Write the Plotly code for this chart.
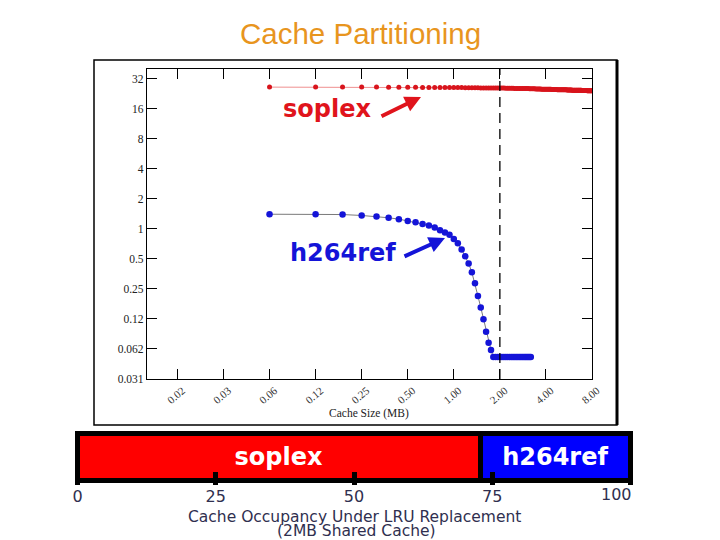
import math
import plotly.graph_objects as go

# ---------------- data ----------------
# cache sizes sampled every 64KB (1/16 MB), from 1/16 MB up to 8 MB
cache_sizes_mb = [k / 16 for k in range(1, 129)]

soplex_mpki = [
    26.3, 26.3, 26.3, 26.3, 26.3, 26.2, 26.2, 26.2,
    26.2, 26.1, 26.1, 26.1, 26.1, 26.0, 26.0, 26.0,
    26.0, 26.0, 25.9, 25.9, 25.9, 25.9, 25.9, 25.8,
    25.8, 25.8, 25.8, 25.8, 25.8, 25.7, 25.7, 25.7,
    25.7, 25.7, 25.6, 25.6, 25.6, 25.6, 25.6, 25.5,
    25.5, 25.5, 25.5, 25.5, 25.4, 25.4, 25.4, 25.4,
    25.4, 25.3, 25.3, 25.3, 25.3, 25.3, 25.2, 25.2,
    25.2, 25.2, 25.2, 25.1, 25.1, 25.1, 25.1, 25.1,
    25.0, 25.0, 25.0, 25.0, 25.0, 24.9, 24.9, 24.9,
    24.9, 24.9, 24.9, 24.8, 24.8, 24.8, 24.8, 24.8,
    24.8, 24.7, 24.7, 24.7, 24.7, 24.7, 24.7, 24.6,
    24.6, 24.6, 24.6, 24.6, 24.6, 24.6, 24.5, 24.5,
    24.5, 24.5, 24.5, 24.5, 24.5, 24.4, 24.4, 24.4,
    24.4, 24.4, 24.4, 24.4, 24.4, 24.3, 24.3, 24.3,
    24.3, 24.3, 24.3, 24.3, 24.3, 24.3, 24.2, 24.2,
    24.2, 24.2, 24.2, 24.2, 24.2, 24.2, 24.2, 24.2,
]

h264ref_mpki = [
    1.40, 1.40, 1.39, 1.36, 1.33, 1.29, 1.25, 1.20,
    1.16, 1.12, 1.08, 1.03, 0.97, 0.92, 0.87, 0.79,
    0.715, 0.62, 0.53, 0.45, 0.366, 0.284, 0.212, 0.163,
    0.124, 0.093, 0.072, 0.061, 0.052, 0.052, 0.052, 0.052,
    0.052, 0.052, 0.052, 0.052, 0.052, 0.052, 0.052, 0.052,
    0.052, 0.052, 0.052, 0.052, 0.052, 0.052, 0.052, 0.052,
    0.052, 0.052, 0.052,
]

x_tickvals = [2 ** e for e in range(-6, 4)]
x_ticktext = ["0.02", "0.03", "0.06", "0.12", "0.25", "0.50", "1.00", "2.00", "4.00", "8.00"]
y_tickvals = [2 ** e for e in range(5, -6, -1)]
y_ticktext = ["32", "16", "8", "4", "2", "1", "0.5", "0.25", "0.12", "0.062", "0.031"]

apps = ["soplex", "h264ref"]
occupancy_pct = [72.8, 27.2]
bar_colors = ["#FF0000", "#0000FF"]
occ_tickvals = [0, 25, 50, 75, 100]
occ_ticktext = ["0", "25", "50", "75", ""]

# ---------------- helpers ----------------
W, H = 720, 540
def px(x):
    return x / W
def py(y):
    return 1 - y / H

L2 = math.log10(2)

fig = go.Figure()

fig.add_trace(go.Scatter(
    x=cache_sizes_mb, y=soplex_mpki, mode="lines+markers",
    line=dict(color="#F09090", width=1),
    marker=dict(color="#D8141C", size=5),
    xaxis="x", yaxis="y", hoverinfo="skip", showlegend=False))

fig.add_trace(go.Scatter(
    x=cache_sizes_mb[:len(h264ref_mpki)], y=h264ref_mpki, mode="lines+markers",
    line=dict(color="#7A7A7A", width=1),
    marker=dict(color="#1414D8", size=6.5),
    xaxis="x", yaxis="y", hoverinfo="skip", showlegend=False))

for name, val, col in zip(apps, occupancy_pct, bar_colors):
    fig.add_trace(go.Bar(
        y=[0], x=[val], orientation="h", width=1,
        marker=dict(color=col, line=dict(color="black", width=5)),
        text=["<b>%s</b>" % name], textposition="inside", insidetextanchor="middle",
        textangle=0, constraintext="none",
        textfont=dict(color="white", size=24, family="DejaVu Sans"),
        xaxis="x2", yaxis="y2", hoverinfo="skip", showlegend=False))

serif = dict(family="Liberation Serif", size=11.5, color="#222222")

fig.update_layout(
    width=W, height=H, margin=dict(l=0, r=0, t=0, b=0, pad=0), autosize=False,
    paper_bgcolor="white", plot_bgcolor="white",
    barmode="stack", showlegend=False,
    xaxis=dict(
        domain=[px(147), px(592)], anchor="y", type="log", automargin=False,
        range=[-6.66 * L2, 3 * L2],
        tickvals=x_tickvals, ticktext=x_ticktext, tickangle=-40, ticklabelshift=5,
        ticks="inside", ticklen=10, tickwidth=1, tickcolor="black",
        showline=True, linecolor="black", linewidth=1.2, mirror="ticks",
        showgrid=False, zeroline=False,
        tickfont=dict(family="Liberation Serif", size=11, color="#333333"),
    ),
    yaxis=dict(
        domain=[py(379), py(69)], anchor="x", type="log", automargin=False,
        range=[-5 * L2, 5.32 * L2],
        tickvals=y_tickvals, ticktext=y_ticktext,
        ticks="inside", ticklen=10, tickwidth=1, tickcolor="black",
        showline=True, linecolor="black", linewidth=1.2, mirror="ticks",
        showgrid=False, zeroline=False, tickfont=serif,
    ),
    xaxis2=dict(
        domain=[px(71.97), px(636.03)], anchor="y2", range=[-1, 101], automargin=False,
        tickvals=occ_tickvals, ticktext=occ_ticktext,
        ticks="inside", ticklen=13, tickwidth=5, tickcolor="black",
        showline=False, showgrid=False, zeroline=False,
        tickfont=dict(family="DejaVu Sans", size=16, color="#2F2F4F"),
    ),
    yaxis2=dict(
        domain=[py(485.2), py(428.8)], anchor="x2", range=[-0.6, 0.6], automargin=False,
        visible=False, fixedrange=True,
    ),
)

# dashed 2MB line
fig.add_shape(type="line", xref="x", yref="y domain", x0=2, x1=2, y0=0, y1=1,
              line=dict(color="black", width=1.3, dash="10px,6px"))

# outer picture frame of the top chart
fig.add_shape(type="rect", xref="paper", yref="paper",
              x0=px(94), x1=px(617), y0=py(425), y1=py(60),
              line=dict(color="black", width=1.5))
fig.add_shape(type="line", xref="paper", yref="paper",
              x0=px(617), x1=px(617), y0=py(425), y1=py(60),
              line=dict(color="black", width=3))

annots = [
    dict(text="Cache Partitioning", x=px(360), y=py(33), font=dict(family="Liberation Sans", size=29.5, color="#E8951E")),
    dict(text="<b>soplex</b>", x=px(327), y=py(109), font=dict(family="DejaVu Sans", size=24, color="#E0141C")),
    dict(text="<b>h264ref</b>", x=px(343), y=py(253), font=dict(family="DejaVu Sans", size=24, color="#1414D8")),
    dict(text="Cache Size (MB)", x=px(369), y=py(413), font=dict(family="Liberation Serif", size=11.5, color="#222222")),
    dict(text="Cache Occupancy Under LRU Replacement", x=px(354), y=py(517), font=dict(family="DejaVu Sans", size=15.5, color="#2F2F4F")),
    dict(text="(2MB Shared Cache)", x=px(356), y=py(530.5), font=dict(family="DejaVu Sans", size=15.5, color="#2F2F4F")),
]
for a in annots:
    fig.add_annotation(xref="paper", yref="paper", showarrow=False,
                       xanchor="center", yanchor="middle", **a)

# "100" label, right-aligned to its tick
fig.add_annotation(text="100", xref="x2", yref="paper", x=100, y=py(494), xanchor="right",
                   yanchor="middle", showarrow=False, xshift=3,
                   font=dict(family="DejaVu Sans", size=16, color="#2F2F4F"))

# arrows
fig.add_annotation(xref="paper", yref="paper", x=px(421), y=py(97), ax=-41, ay=20, text="",
                   showarrow=True, arrowhead=2, arrowsize=0.8, arrowwidth=4, arrowcolor="#E0141C")
fig.add_annotation(xref="paper", yref="paper", x=px(445), y=py(238), ax=-42, ay=19, text="",
                   showarrow=True, arrowhead=2, arrowsize=0.8, arrowwidth=4, arrowcolor="#1414D8")

fig.write_html("out.html")
